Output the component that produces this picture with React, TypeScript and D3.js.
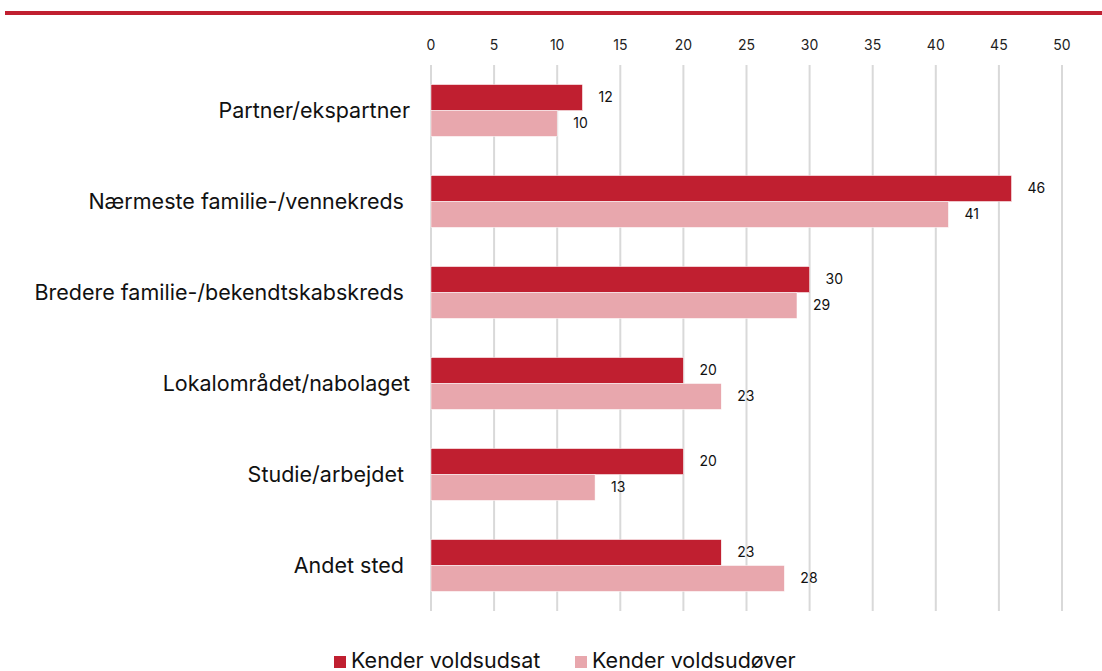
import React from "react";
import * as d3 from "d3";

const categories = [
  "Partner/ekspartner",
  "Nærmeste familie-/vennekreds ",
  "Bredere familie-/bekendtskabskreds ",
  "Lokalområdet/nabolaget",
  "Studie/arbejdet ",
  "Andet sted ",
];
const seriesNames = ["Kender voldsudsat", "Kender voldsudøver"];
const voldsudsat = [12, 46, 30, 20, 20, 23];
const voldsudover = [10, 41, 29, 23, 13, 28];
const ticks = [0, 5, 10, 15, 20, 25, 30, 35, 40, 45, 50];
const colors = ["#C01F30", "#E8A7AD"];

export default function App() {
  const W = 1102, H = 671;
  const x = d3.scaleLinear().domain([0, 50]).range([431, 1062]);
  const y = d3.scaleBand<string>().domain(categories).range([65, 611]).paddingInner(0.43).paddingOuter(0.215);
  const series = [voldsudsat, voldsudover];
  const font = "Inter, 'Noto Sans', sans-serif";
  return (
    <svg width={W} height={H} style={{ position: "absolute", left: 0, top: 0, fontFamily: font }}>
      <rect x={0} y={0} width={W} height={H} fill="#fff" />
      <rect x={5} y={11} width={W - 5} height={4} fill="#C01F30" />
      {ticks.map((t) => (
        <g key={t}>
          <line x1={x(t)} x2={x(t)} y1={65} y2={611} stroke="#D9D9D9" strokeWidth={2} />
          <text x={x(t)} y={50} textAnchor="middle" fontSize={14} fill="#222">{t}</text>
        </g>
      ))}
      {categories.map((c, i) => {
        const y0 = y(c)!;
        const bh = y.bandwidth() / 2;
        return (
          <g key={c}>
            <text x={410} y={y0 + bh} dy="0.35em" textAnchor="end" fontSize={21.5} fill="#111" style={{ whiteSpace: "pre" }}>{c}</text>
            {series.map((s, j) => (
              <g key={j}>
                <rect x={x(0)} y={y0 + j * bh} width={x(s[i]) - x(0)} height={bh} fill={colors[j]} stroke="#fff" strokeWidth={0.5} />
                <text x={x(s[i]) + 16} y={y0 + j * bh + bh / 2} dy="0.35em" fontSize={14} fill="#111">{s[i]}</text>
              </g>
            ))}
          </g>
        );
      })}
      {seriesNames.map((n, j) => {
        const lx = [334, 575][j];
        return (
          <g key={n}>
            <rect x={lx} y={656} width={12} height={12} fill={colors[j]} />
            <text x={lx + 17} y={668} fontSize={21.5} fill="#111">{n}</text>
          </g>
        );
      })}
    </svg>
  );
}
